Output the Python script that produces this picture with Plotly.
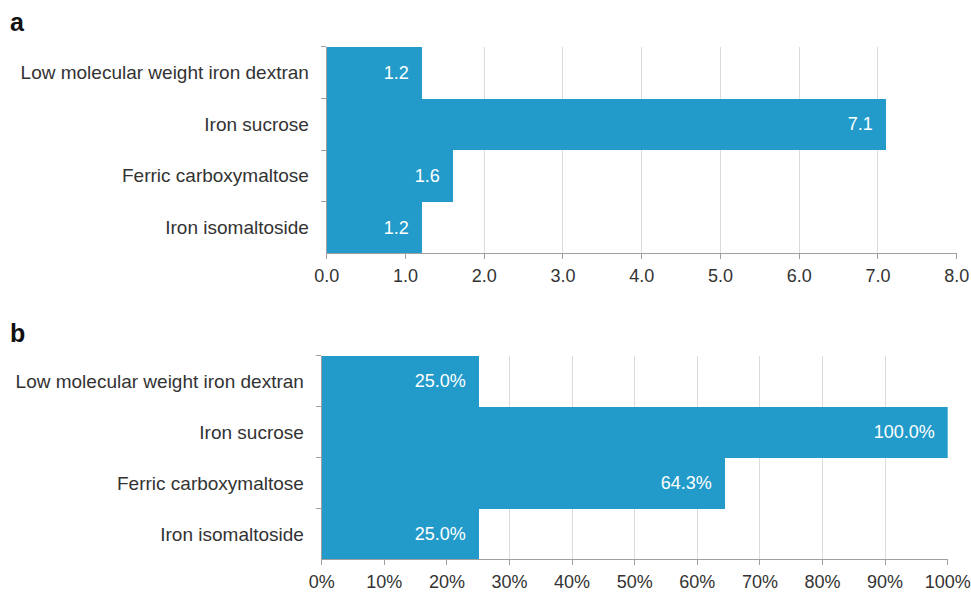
import plotly.graph_objects as go

# Intravenous iron formulations, listed top to bottom
formulations = [
    "Low molecular weight iron dextran",
    "Iron sucrose",
    "Ferric carboxymaltose",
    "Iron isomaltoside",
]
# Panel a: relative values
values_a = [1.2, 7.1, 1.6, 1.2]
# Panel b: percentages
values_b = [25.0, 100.0, 64.3, 25.0]

x_ticks_a = [0, 1, 2, 3, 4, 5, 6, 7, 8]
x_ticks_b = list(range(0, 101, 10))

BAR = "#229bca"
TEXT = "#333333"
GRID = "#dcdcdc"
AXIS = "#a0a0a0"
FONT = "Liberation Sans, Arial, sans-serif"
W, H = 971, 592

fig = go.Figure()
fig.add_trace(go.Bar(
    x=values_a, y=formulations, orientation="h",
    marker=dict(color=BAR, line=dict(width=0)),
    texttemplate="%{x:.1f}\u00a0\u00a0", textposition="inside",
    insidetextanchor="end", textfont=dict(color="white", size=18, family=FONT),
    xaxis="x", yaxis="y", hoverinfo="skip", cliponaxis=False,
))
fig.add_trace(go.Bar(
    x=values_b, y=formulations, orientation="h",
    marker=dict(color=BAR, line=dict(width=0)),
    texttemplate="%{x:.1f}%\u00a0\u00a0", textposition="inside",
    insidetextanchor="end", textfont=dict(color="white", size=18, family=FONT),
    xaxis="x2", yaxis="y2", hoverinfo="skip", cliponaxis=False,
))

def xaxis(domain, anchor, rng, ticks, fmt, suffix=""):
    return dict(
        domain=domain, anchor=anchor, range=rng, tickmode="array",
        tickvals=ticks, ticktext=[fmt.format(t) + suffix for t in ticks],
        showgrid=True, gridcolor=GRID, gridwidth=1, zeroline=False,
        showline=True, linecolor=AXIS, linewidth=1,
        ticks="outside", ticklen=5, tickcolor=AXIS,
        tickfont=dict(size=18, color=TEXT, family=FONT),
        ticklabelstandoff=1, automargin=False, fixedrange=True,
    )

def yaxis(domain, anchor):
    return dict(
        domain=domain, anchor=anchor, categoryorder="array",
        categoryarray=formulations, autorange="reversed",
        showgrid=False, zeroline=False, showline=True, linecolor=AXIS,
        linewidth=1, ticks="outside", ticklen=5, tickcolor=AXIS,
        tickson="boundaries", tickfont=dict(size=19, color=TEXT, family=FONT),
        ticklabelstandoff=13, automargin=False, fixedrange=True,
    )

fig.update_layout(
    width=W, height=H,
    margin=dict(l=0, r=0, t=0, b=0, pad=0),
    paper_bgcolor="white", plot_bgcolor="white",
    bargap=0, showlegend=False,
    font=dict(family=FONT, color=TEXT),
    xaxis=xaxis([326.7 / W, 956.7 / W], "y", [0, 8], x_ticks_a, "{:.1f}"),
    yaxis=yaxis([1 - 253.3 / H, 1 - 46.7 / H], "x"),
    xaxis2=xaxis([321.7 / W, 947.7 / W], "y2", [0, 100], x_ticks_b, "{:d}", "%"),
    yaxis2=yaxis([1 - 559.3 / H, 1 - 355.7 / H], "x2"),
    annotations=[
        dict(text="<b>a</b>", x=8 / W, y=1 - 22 / H, xref="paper", yref="paper",
             xanchor="left", yanchor="middle", showarrow=False,
             font=dict(size=25, color="#111111", family=FONT)),
        dict(text="<b>b</b>", x=8 / W, y=1 - 333 / H, xref="paper", yref="paper",
             xanchor="left", yanchor="middle", showarrow=False,
             font=dict(size=25, color="#111111", family=FONT)),
    ],
)

fig.write_html("out.html")
